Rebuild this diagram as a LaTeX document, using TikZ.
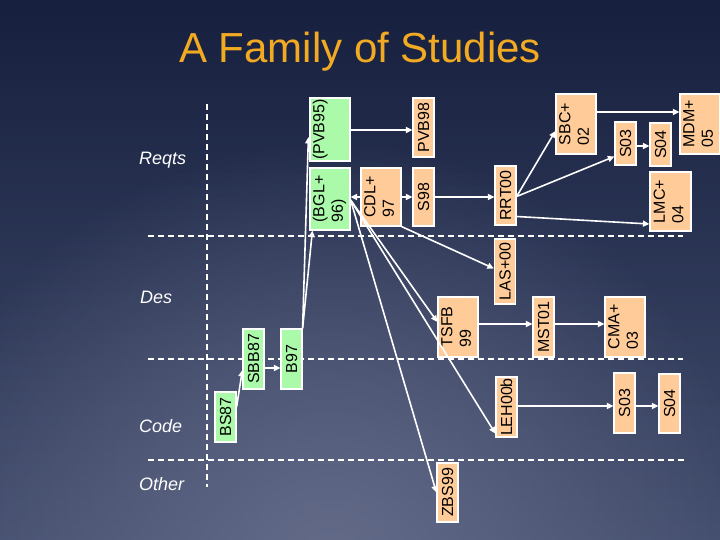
\documentclass[tikz,border=0pt]{standalone}
\usepackage{fontspec}
\setmainfont{Liberation Sans}
\usetikzlibrary{arrows.meta,fadings}
\definecolor{bgtop}{RGB}{22,31,62}
\definecolor{bgbot}{RGB}{66,76,108}
\definecolor{bglight}{RGB}{100,108,138}
\definecolor{peach}{RGB}{255,204,153}
\definecolor{mint}{RGB}{170,250,170}
\definecolor{gold}{RGB}{242,170,34}
\tikzfading[name=radfade, inner color=transparent!0, outer color=transparent!100]
\begin{document}
\begin{tikzpicture}[x=1pt,y=-1pt,
  box/.style={draw=white, line width=1.2pt, inner sep=0pt, text=black,
    font=\fontsize{16}{18.5}\selectfont},
  ob/.style={box, fill=peach},
  gb/.style={box, fill=mint},
  arr/.style={draw=white, line width=1.6pt, -{Triangle[length=6.5pt,width=6pt]}},
  lanedash/.style={draw=white, line width=1.1pt, dash pattern=on 6pt off 4pt},
  lanelabel/.style={anchor=base west, text=white, inner sep=0pt,
    font=\fontsize{18}{20}\selectfont\itshape}]
\useasboundingbox (0,0) rectangle (720,540);
\shade[top color=bgtop, bottom color=bgbot] (0,0) rectangle (720,540);
\begin{scope}
\clip (0,0) rectangle (720,540);
\fill[bglight, path fading=radfade] (330,570) circle (430);
\end{scope}

% title
\node[anchor=base, text=gold, inner sep=0pt, font=\fontsize{42}{46}\selectfont] (title) at (360,63) {A Family of Studies};

% lane separators
\coordinate (v1) at (207,104); \coordinate (v2) at (207,487);
\coordinate (h1a) at (148,236); \coordinate (h1b) at (683,236);
\coordinate (h2a) at (148,359); \coordinate (h2b) at (683,359);
\coordinate (h3a) at (148,460); \coordinate (h3b) at (685,460);
\draw[lanedash] (v1) -- (v2);
\draw[lanedash] (h1a) -- (h1b);
\draw[lanedash] (h2a) -- (h2b);
\draw[lanedash] (h3a) -- (h3b);

% lane labels
\node[lanelabel] (reqts) at (139,165) {Reqts};
\node[lanelabel] (des) at (140,303) {Des};
\node[lanelabel] (code) at (139,432) {Code};
\node[lanelabel] (other) at (139,490) {Other};

% nodes
\node[gb, minimum width=40pt, minimum height=63pt] (pvb95) at (330,129.5) {\rotatebox{90}{\begin{tabular}{@{}l@{}}(PVB95)\\\mbox{}\end{tabular}}};
\node[ob, minimum width=21pt, minimum height=59pt] (pvb98) at (423.5,127.5) {\rotatebox{90}{PVB98}};
\node[gb, minimum width=40pt, minimum height=62pt] (bgl96) at (330,199) {\rotatebox{90}{\begin{tabular}{@{}l@{}}(BGL+\\96)\end{tabular}}};
\node[ob, minimum width=40pt, minimum height=58pt] (cdl97) at (381,197) {\rotatebox{90}{\begin{tabular}{@{}l@{}}CDL+\\97\end{tabular}}};
\node[ob, minimum width=21pt, minimum height=58pt] (s98) at (423.5,197) {\rotatebox{90}{S98}};
\node[ob, minimum width=21pt, minimum height=59pt] (rrt00) at (505.5,195.5) {\rotatebox{90}{RRT00}};
\node[ob, minimum width=21pt, minimum height=65pt] (las00) at (505,271.5) {\rotatebox{90}{LAS+00}};
\node[ob, minimum width=40pt, minimum height=60pt] (sbc02) at (576,124) {\rotatebox{90}{\begin{tabular}{@{}l@{}}SBC+\\02\end{tabular}}};
\node[ob, minimum width=21pt, minimum height=43pt] (s03a) at (625.5,143.5) {\rotatebox{90}{S03}};
\node[ob, minimum width=21pt, minimum height=43pt] (s04a) at (660.5,144.5) {\rotatebox{90}{S04}};
\node[ob, minimum width=40pt, minimum height=60pt] (mdm05) at (700,124) {\rotatebox{90}{\begin{tabular}{@{}l@{}}MDM+\\05\end{tabular}}};
\node[ob, minimum width=41pt, minimum height=59pt] (lmc04) at (670.5,201.5) {\rotatebox{90}{\begin{tabular}{@{}l@{}}LMC+\\04\end{tabular}}};
\node[gb, minimum width=21pt, minimum height=60pt] (sbb87) at (253.5,359) {\rotatebox{90}{SBB87}};
\node[gb, minimum width=21pt, minimum height=60pt] (b97) at (291.5,359) {\rotatebox{90}{B97}};
\node[gb, minimum width=21pt, minimum height=50pt] (bs87) at (225.5,417) {\rotatebox{90}{BS87}};
\node[ob, minimum width=40pt, minimum height=60pt] (tsfb99) at (458,327) {\rotatebox{90}{\begin{tabular}{@{}l@{}}TSFB\\99\end{tabular}}};
\node[ob, minimum width=21pt, minimum height=60pt] (mst01) at (543.5,327) {\rotatebox{90}{MST01}};
\node[ob, minimum width=40pt, minimum height=60pt] (cma03) at (625,327) {\rotatebox{90}{\begin{tabular}{@{}l@{}}CMA+\\03\end{tabular}}};
\node[ob, minimum width=21pt, minimum height=60pt] (leh00b) at (506.5,407) {\rotatebox{90}{LEH00b}};
\node[ob, minimum width=21pt, minimum height=60pt] (s03b) at (624.5,403) {\rotatebox{90}{S03}};
\node[ob, minimum width=21pt, minimum height=59pt] (s04b) at (669.5,403.5) {\rotatebox{90}{S04}};
\node[ob, minimum width=21pt, minimum height=59pt] (zbs99) at (447.5,492.5) {\rotatebox{90}{ZBS99}};

% connectors
\draw[arr] ([yshift=-0.5pt]pvb95.east) -- ([yshift=-0.5pt]pvb95.east -| pvb98.west);
\draw[arr] (cdl97.east) -- (s98.west);
\draw[arr] (s98.east) -- (s98.east -| rrt00.west);
\draw[arr] (cdl97.west) -- (cdl97.west -| bgl96.east);
\draw[arr] (cdl97.south east) -- ([yshift=3pt]las00.west);
\draw[arr] ([yshift=-1pt]bgl96.east) -- ([yshift=5pt]tsfb99.west);
\draw[arr] ([yshift=-1pt]bgl96.east) -- ([yshift=4pt]leh00b.south west);
\draw[arr] ([yshift=-1pt]bgl96.east) -- (zbs99.west);
\draw[arr] (b97.north east) -- ([yshift=-7.5pt,xshift=-1pt]pvb95.west);
\draw[arr] (b97.north east) -- ([xshift=3pt]bgl96.south west);
\draw[arr] ([yshift=-9pt]sbb87.east) -- ([yshift=-9pt]b97.west);
\draw[arr] ([yshift=10pt]bs87.east) -- ([yshift=-11pt]sbb87.west);
\draw[arr] ([yshift=-1pt]rrt00.east) -- ([yshift=-7pt]sbc02.west);
\draw[arr] ([yshift=-1pt]rrt00.east) -- ([yshift=-13pt]s03a.west);
\draw[arr] ([yshift=-21pt]rrt00.east) -- ([yshift=-22.5pt]lmc04.west);
\draw[arr] ([yshift=12pt]sbc02.east) -- ([yshift=12pt]sbc02.east -| mdm05.west);
\draw[arr] ([yshift=-2.5pt]s03a.east) -- ([yshift=-2.5pt]s03a.east -| s04a.west);
\draw[arr] ([yshift=3pt]tsfb99.east) -- ([yshift=3pt]tsfb99.east -| mst01.west);
\draw[arr] ([yshift=3pt]mst01.east) -- ([yshift=3pt]mst01.east -| cma03.west);
\draw[arr] ([yshift=1pt]leh00b.east) -- ([yshift=1pt]leh00b.east -| s03b.west);
\draw[arr] ([yshift=-3pt]s03b.east) -- ([yshift=-3pt]s03b.east -| s04b.west);
\end{tikzpicture}
\end{document}
